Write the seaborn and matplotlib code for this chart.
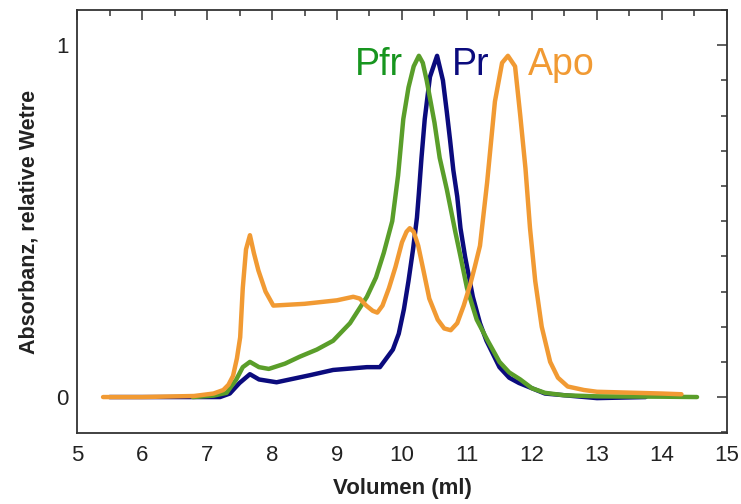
import pandas as pd
import numpy as np
import matplotlib.pyplot as plt
import seaborn as sns
from matplotlib.ticker import MultipleLocator

# Elutionsprofile (Volumen in ml, Absorbanz relativ)
vol_apo = [5.4, 6.0, 6.8, 7.1, 7.25, 7.33, 7.4, 7.46, 7.51, 7.55, 7.6, 7.66, 7.72, 7.79, 7.9,
           8.02, 8.5, 9.0, 9.25, 9.35, 9.45, 9.55, 9.62, 9.7, 9.8, 9.9, 10.0, 10.07, 10.12,
           10.18, 10.25, 10.33, 10.42, 10.55, 10.65, 10.75, 10.85, 10.95, 11.05, 11.12, 11.2,
           11.31, 11.43, 11.54, 11.63, 11.74, 11.82, 11.9, 11.97, 12.05, 12.15, 12.28, 12.4,
           12.55, 12.8, 13.0, 14.0, 14.3]
abs_apo = [0.0, 0.0, 0.003, 0.01, 0.02, 0.035, 0.06, 0.11, 0.17, 0.31, 0.42, 0.46, 0.41, 0.36, 0.30,
           0.26, 0.265, 0.275, 0.285, 0.28, 0.26, 0.245, 0.24, 0.26, 0.31, 0.37, 0.44, 0.47, 0.48,
           0.47, 0.43, 0.36, 0.28, 0.22, 0.195, 0.19, 0.21, 0.26, 0.32, 0.37, 0.43,
           0.61, 0.84, 0.95, 0.97, 0.94, 0.80, 0.65, 0.48, 0.33, 0.20, 0.10, 0.055,
           0.03, 0.02, 0.015, 0.01, 0.008]

vol_pfr = [6.78, 7.1, 7.3, 7.45, 7.55, 7.66, 7.8, 7.95, 8.2, 8.43, 8.69, 8.94, 9.2, 9.46, 9.6,
           9.72, 9.85, 9.94, 10.02, 10.1, 10.18, 10.26, 10.32, 10.38, 10.5, 10.58, 10.69,
           10.82, 10.9, 11.0, 11.15, 11.32, 11.5, 11.65, 11.82, 12.0, 12.2, 12.5, 13.0, 14.0, 14.54]
abs_pfr = [0.0, 0.004, 0.012, 0.05, 0.085, 0.10, 0.085, 0.08, 0.095, 0.115, 0.135, 0.16, 0.21, 0.285, 0.34,
           0.41, 0.50, 0.63, 0.79, 0.88, 0.94, 0.97, 0.95, 0.90, 0.78, 0.68, 0.59,
           0.47, 0.40, 0.31, 0.22, 0.16, 0.10, 0.07, 0.05, 0.025, 0.012, 0.005, 0.002, 0.001, 0.0]

vol_pr = [5.5, 6.5, 7.2, 7.35, 7.5, 7.66, 7.8, 8.07, 8.58, 8.94, 9.46, 9.66, 9.86, 9.95, 10.03,
          10.1, 10.17, 10.23, 10.26, 10.3, 10.35, 10.43, 10.54, 10.63, 10.69, 10.74, 10.79,
          10.85, 10.9, 10.97, 11.09, 11.2, 11.3, 11.5, 11.65, 11.8, 12.2, 13.0, 13.75]
abs_pr = [0.0, 0.0, 0.0, 0.01, 0.04, 0.065, 0.05, 0.042, 0.062, 0.077, 0.085, 0.085, 0.135, 0.18, 0.25,
          0.33, 0.42, 0.51, 0.58, 0.68, 0.79, 0.91, 0.97, 0.90, 0.81, 0.73, 0.645,
          0.57, 0.48, 0.40, 0.285, 0.21, 0.16, 0.085, 0.055, 0.04, 0.01, -0.003, 0.0]

namen = ['Pr', 'Pfr', 'Apo']
farben = {'Pr': '#0b0b7d', 'Pfr': '#5a9e2a', 'Apo': '#f19a33'}
text_farben = {'Pr': '#0b0b7d', 'Pfr': '#17951f', 'Apo': '#f19a33'}

df = pd.concat([
    pd.DataFrame({'Volumen': vol_pr, 'Absorbanz': abs_pr, 'Probe': 'Pr'}),
    pd.DataFrame({'Volumen': vol_pfr, 'Absorbanz': abs_pfr, 'Probe': 'Pfr'}),
    pd.DataFrame({'Volumen': vol_apo, 'Absorbanz': abs_apo, 'Probe': 'Apo'}),
], ignore_index=True)

sns.set_style('white')
plt.rcParams['font.family'] = ['Liberation Sans', 'DejaVu Sans']
plt.rcParams['lines.solid_joinstyle'] = 'round'

fig = plt.figure(figsize=(7.41, 5.04), dpi=100)
ax = fig.add_axes([0.104, 0.141, 0.877, 0.839])

sns.lineplot(data=df, x='Volumen', y='Absorbanz', hue='Probe', hue_order=namen,
             palette=farben, sort=False, estimator=None, linewidth=3.2,
             legend=False, ax=ax)

ax.set_xlim(5, 15)
ax.set_ylim(-0.102, 1.10)
ax.xaxis.set_major_locator(MultipleLocator(1))
ax.xaxis.set_minor_locator(MultipleLocator(0.5))
ax.set_yticks([0, 1])
ax.set_yticklabels(['0', '1'])
ax.yaxis.set_minor_locator(MultipleLocator(0.1))
ax.tick_params(which='both', direction='in', top=True, right=True, colors='#333333',
               labelcolor='#222222', width=1.1)
ax.tick_params(which='major', length=7, labelsize=16)
ax.tick_params(axis='x', which='major', pad=9)
ax.tick_params(axis='y', which='major', pad=6)
ax.tick_params(which='minor', length=4)
for s in ax.spines.values():
    s.set_color('#333333')
    s.set_linewidth(1.3)

ax.set_xlabel('Volumen (ml)', fontsize=16, fontweight='bold', color='#222222', labelpad=8)
ax.set_ylabel('Absorbanz, relative Wetre', fontsize=15.5, fontweight='bold', color='#222222', labelpad=12)

# Beschriftung der Peaks
ax.text(9.28, 0.915, 'Pfr', color=text_farben['Pfr'], fontsize=27, ha='left', va='baseline')
ax.text(10.77, 0.915, 'Pr', color=text_farben['Pr'], fontsize=27, ha='left', va='baseline')
ax.text(11.94, 0.915, 'Apo', color=text_farben['Apo'], fontsize=27, ha='left', va='baseline')

fig.savefig('out.png', dpi=100)
